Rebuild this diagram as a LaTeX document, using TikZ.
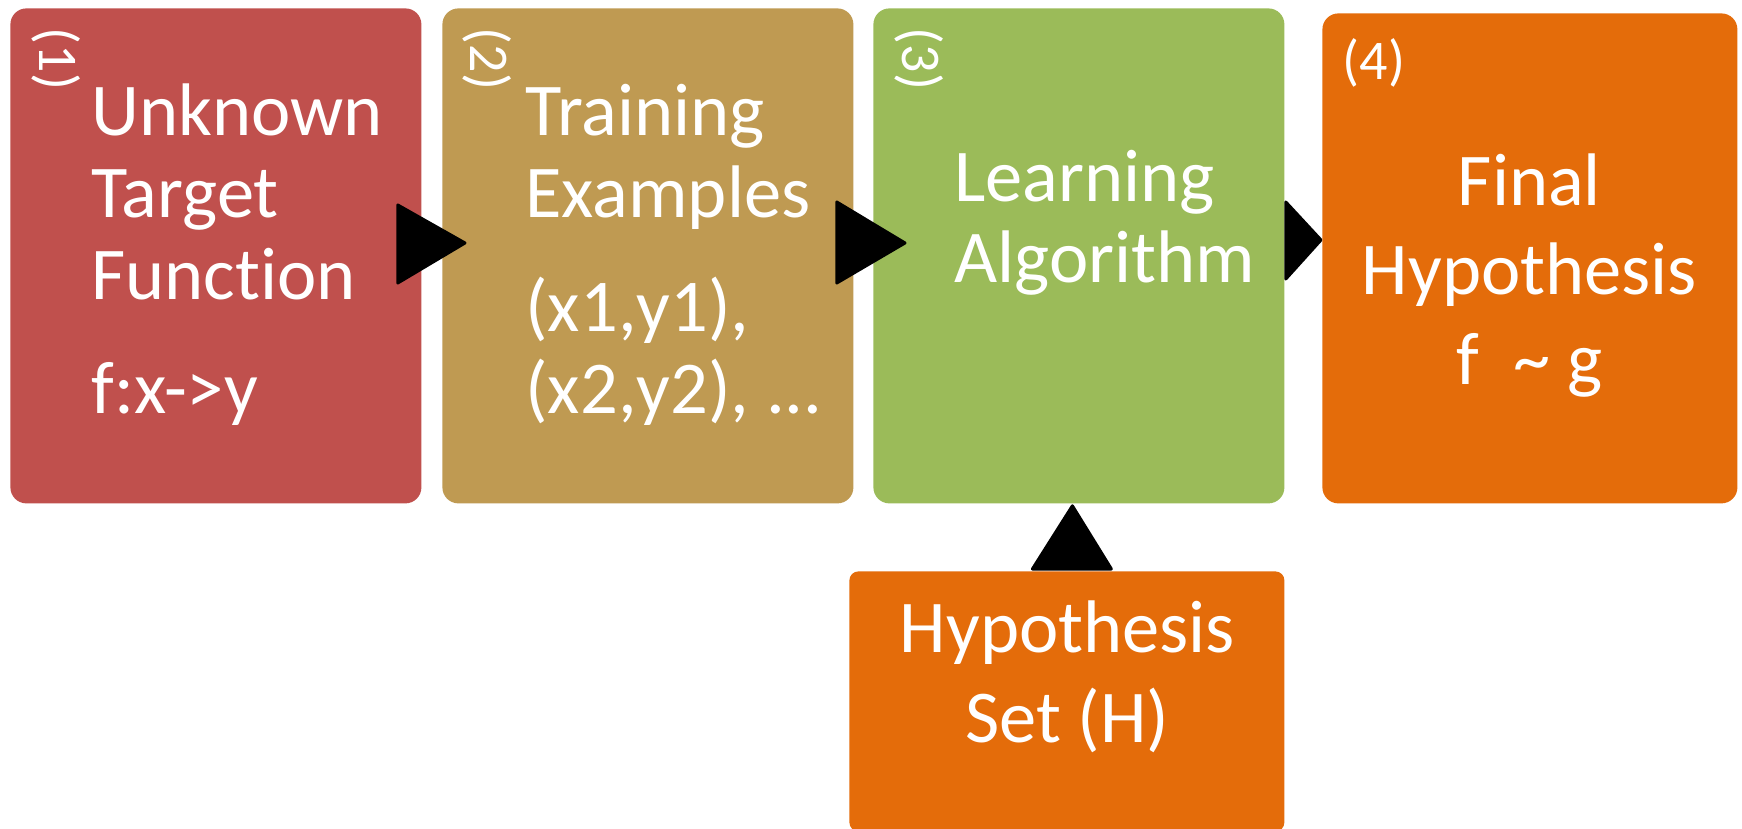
\documentclass[tikz,border=0pt]{standalone}
\usepackage{fontspec}
\setmainfont{Carlito}[Ligatures={NoCommon,NoContextual}]
\usetikzlibrary{calc}
\definecolor{cred}{HTML}{C0504D}
\definecolor{ctan}{HTML}{BF9A52}
\definecolor{cgreen}{HTML}{9BBB59}
\definecolor{corange}{HTML}{E46C0A}
\tikzset{
  box/.style={anchor=north west, rounded corners=8pt, inner sep=0pt, draw=none},
  mainbox/.style={box, minimum width=205.5pt, minimum height=247.5pt},
  txt/.style={text=white, inner sep=0pt, font=\fontsize{37.25pt}{41pt}\selectfont},
  ctxt/.style={text=white, inner sep=0pt, align=center, anchor=base, font=\fontsize{37.25pt}{44.75pt}\selectfont},
  ltxt/.style={txt, align=left, anchor=base west},
  numlbl/.style={text=white, inner sep=0pt, font=\fontsize{28pt}{34pt}\selectfont},
  tri/.style={fill=black, draw=black, line width=1.5pt, line join=round}
}
\begin{document}
\begin{tikzpicture}[x=0.5pt, y=-0.5pt]
\useasboundingbox (0,0) rectangle (1742,829);
\clip (0,0) rectangle (1742,829);
% boxes
\node[mainbox, fill=cred] (b1) at (10,8) {};
\node[mainbox, fill=ctan] (b2) at (442,8) {};
\node[mainbox, fill=cgreen] (b3) at (873,8) {};
\node[box, fill=corange, minimum width=207.5pt, minimum height=245pt] (b4) at (1322,13) {};
\node[box, fill=corange, rounded corners=4.5pt, minimum width=217.5pt, minimum height=130pt] (b5) at (849,571) {};
% number labels
\node[numlbl, rotate=-90] (n1) at ($(b1.north west)+(46,51)$) {(1)};
\node[numlbl, rotate=-90] (n2) at ($(b2.north west)+(45.5,51)$) {(2)};
\node[numlbl, rotate=-90] (n3) at ($(b3.north west)+(46,51)$) {(3)};
\node[numlbl] (n4) at ($(b4.north west)+(52,49.5)$) {(4)};
% texts (anchor = baseline of the last line)
\node[ltxt] (t1) at ($(b1.north west)+(81,405)$) {Unknown\\Target\\Function\\[16pt]f:x->y};
\node[ltxt] (t2) at ($(b2.north west)+(83,405)$) {Training\\Examples\\[16pt](x1,y1),\\(x2,y2), ...};
\node[ltxt] (t3) at ($(b3.north west)+(81,275)$) {Learning\\Algorithm};
\node[ctxt] (t4) at ($(b4.north west)+(207.5,371)$) {Final\\Hypothesis\\f\ \ \textasciitilde\ g};
\node[ctxt] (t5) at ($(b5.north)+(0.5,171)$) {Hypothesis\\Set (H)};
% arrows
\filldraw[tri] ($(b1.north east)+(-24,197)$) -- ($(b2.north west)+(23,235)$) -- ($(b1.north east)+(-24,275)$) -- cycle;
\filldraw[tri] ($(b2.north east)+(-17,194)$) -- ($(b3.north west)+(32,235)$) -- ($(b2.north east)+(-17,275)$) -- cycle;
\filldraw[tri] ($(b3.north east)+(1,194)$) -- ($(b4.north west)+(-1,227)$) -- ($(b3.north east)+(1,271)$) -- cycle;
\filldraw[tri] ($(b5.north)+(-34.5,-2)$) -- ($(b3.south)+(-6.5,2)$) -- ($(b5.north)+(44.5,-2)$) -- cycle;
\end{tikzpicture}
\end{document}
